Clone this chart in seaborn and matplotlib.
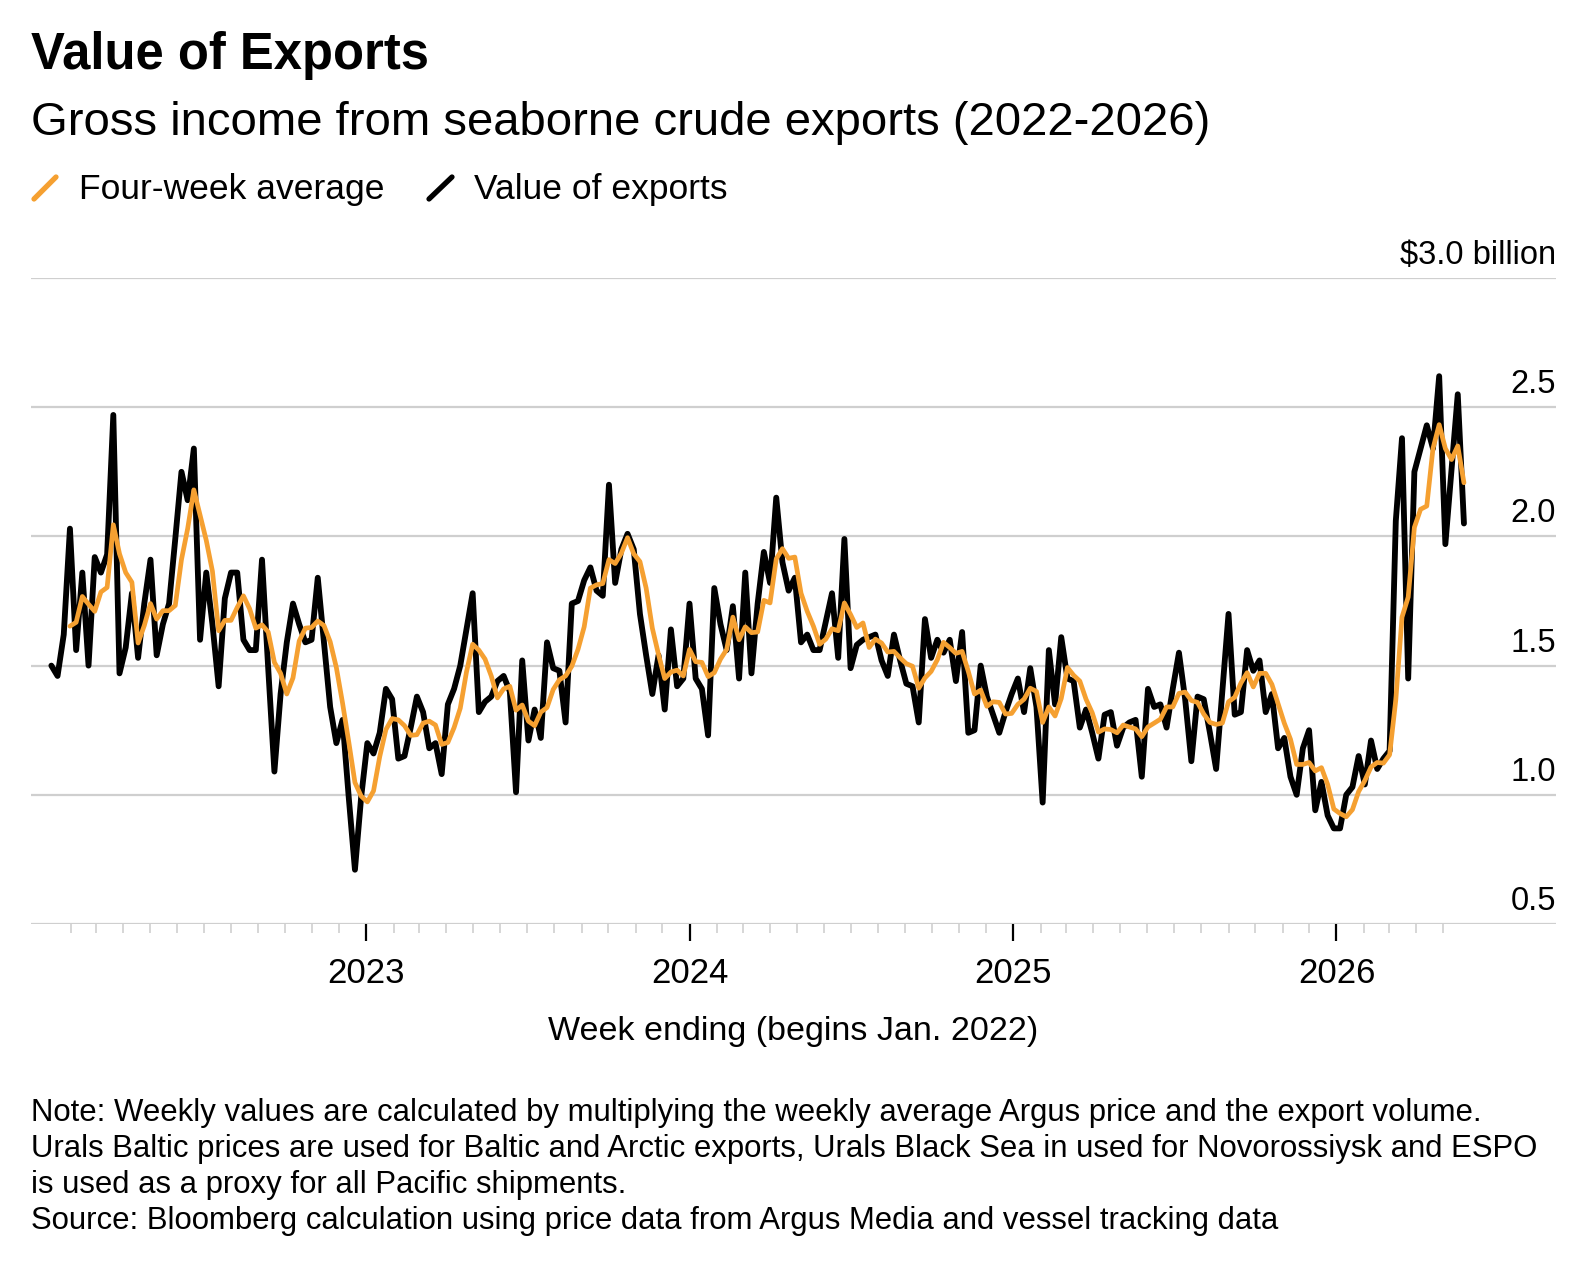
import numpy as np
import pandas as pd
import matplotlib
matplotlib.use("Agg")
import matplotlib.pyplot as plt
import matplotlib.dates as mdates
import matplotlib.transforms as mtransforms
from matplotlib.lines import Line2D
import seaborn as sns

start_date = "2022-01-10"
weekly_values = [
    1.50, 1.46, 1.62, 2.03, 1.56, 1.86, 1.50, 1.92, 1.86, 1.93,
    2.47, 1.47, 1.57, 1.78, 1.53, 1.74, 1.91, 1.54, 1.66, 1.74,
    1.99, 2.25, 2.14, 2.34, 1.60, 1.86, 1.66, 1.42, 1.76, 1.86,
    1.86, 1.60, 1.56, 1.56, 1.91, 1.49, 1.09, 1.39, 1.59, 1.74,
    1.66, 1.59, 1.60, 1.84, 1.59, 1.34, 1.20, 1.29, 0.99, 0.71,
    0.99, 1.20, 1.16, 1.24, 1.41, 1.37, 1.14, 1.15, 1.26, 1.38,
    1.32, 1.18, 1.20, 1.08, 1.35, 1.41, 1.50, 1.64, 1.78, 1.32,
    1.36, 1.38, 1.44, 1.46, 1.40, 1.01, 1.52, 1.21, 1.33, 1.22,
    1.59, 1.49, 1.48, 1.28, 1.74, 1.75, 1.83, 1.88, 1.79, 1.77,
    2.20, 1.82, 1.95, 2.01, 1.95, 1.70, 1.54, 1.39, 1.54, 1.33,
    1.64, 1.42, 1.45, 1.74, 1.45, 1.41, 1.23, 1.80, 1.66, 1.56,
    1.73, 1.45, 1.86, 1.47, 1.74, 1.94, 1.82, 2.15, 1.90, 1.79,
    1.84, 1.59, 1.62, 1.56, 1.56, 1.67, 1.78, 1.53, 1.99, 1.49,
    1.58, 1.60, 1.61, 1.62, 1.52, 1.46, 1.62, 1.52, 1.43, 1.42,
    1.28, 1.68, 1.53, 1.60, 1.55, 1.60, 1.44, 1.63, 1.24,
    1.25, 1.50, 1.38, 1.31, 1.24, 1.32, 1.39, 1.45, 1.32, 1.49,
    1.34, 0.97, 1.56, 1.35, 1.61, 1.45, 1.44, 1.26, 1.33, 1.24,
    1.14, 1.31, 1.32, 1.19, 1.26, 1.28, 1.29, 1.07, 1.41, 1.34,
    1.35, 1.26, 1.41, 1.55, 1.37, 1.13, 1.38, 1.37, 1.24, 1.10,
    1.40, 1.70, 1.31, 1.32, 1.56, 1.48, 1.52, 1.32, 1.39, 1.18,
    1.22, 1.07, 1.00, 1.18, 1.25, 0.94, 1.05, 0.92, 0.87, 0.87,
    1.00, 1.03, 1.15, 1.04, 1.21, 1.10, 1.14, 1.17, 2.06, 2.38,
    1.45, 2.25, 2.34, 2.43, 2.34, 2.62, 1.97, 2.26, 2.55, 2.05,
]
y_ticks = [0.5, 1.0, 1.5, 2.0, 2.5, 3.0]
y_tick_labels = ["0.5", "1.0", "1.5", "2.0", "2.5", "$3.0 billion"]
year_ticks = ["2023-01-01", "2024-01-01", "2025-01-01", "2026-01-01"]
year_labels = ["2023", "2024", "2025", "2026"]

dates = pd.date_range(start_date, periods=len(weekly_values), freq="7D")
df = pd.DataFrame({"date": dates, "value": weekly_values})
df["avg"] = df["value"].rolling(4).mean()

sns.set_theme(style="white")
plt.rcParams["font.family"] = ["Liberation Sans", "DejaVu Sans"]
plt.rcParams["text.color"] = "black"
plt.rcParams["xtick.color"] = "black"
plt.rcParams["xtick.labelcolor"] = "black"

W, H = 1594, 1273
fig = plt.figure(figsize=(W / 100, H / 100), dpi=100)
ax = fig.add_axes([31 / W, 1 - 924 / H, (1556 - 31) / W, (924 - 278) / H])

for yv in y_ticks:
    ax.axhline(yv, color="#cfcfcf", lw=1.6, zorder=1)

sns.lineplot(data=df, x="date", y="value", ax=ax, color="black", lw=4.2, zorder=3)
sns.lineplot(data=df.dropna(), x="date", y="avg", ax=ax, color="#f5a031", lw=3.4, zorder=4)

ax.set_ylim(0.5, 3.0)
ax.set_xlim(pd.Timestamp("2021-12-18"), pd.Timestamp("2026-09-06"))
for s in ax.spines.values():
    s.set_visible(False)
ax.set_yticks([])
ax.set_ylabel("")
ax.set_xlabel("")

ax.set_xticks(pd.to_datetime(year_ticks))
ax.set_xticklabels(year_labels, fontsize=25, color="black")
minor = [d for d in pd.date_range("2022-02-01", "2026-05-01", freq="MS") if d.month != 1]
ax.set_xticks(minor, minor=True)
ax.tick_params(axis="x", which="major", length=12, width=1.6, color="black", pad=12, bottom=True)
ax.tick_params(axis="x", which="minor", length=6.5, width=1.2, color="#cfcfcf", bottom=True)

off = mtransforms.ScaledTranslation(0, 0.14, fig.dpi_scale_trans)
tr = mtransforms.blended_transform_factory(ax.transAxes, ax.transData) + off
for yv, lab in zip(y_ticks, y_tick_labels):
    ax.text(1.0, yv, lab, transform=tr, ha="right", va="baseline", fontsize=23.5, color="black")

def fy(px):
    return 1 - px / H

fig.text(31 / W, fy(69), "Value of Exports", fontsize=36.5, fontweight="bold", va="baseline", ha="left")
fig.text(31 / W, fy(135), "Gross income from seaborne crude exports (2022-2026)", fontsize=34, va="baseline", ha="left")

fig.add_artist(Line2D([34 / W, 56 / W], [fy(199), fy(177)], color="#f5a031", lw=3.8, transform=fig.transFigure))
fig.text(79 / W, fy(199), "Four-week average", fontsize=25.5, va="baseline", ha="left")
fig.add_artist(Line2D([429 / W, 452 / W], [fy(199), fy(177)], color="black", lw=3.8, transform=fig.transFigure))
fig.text(474 / W, fy(199), "Value of exports", fontsize=25.5, va="baseline", ha="left")

fig.text((31 + 1556) / 2 / W, fy(1040), "Week ending (begins Jan. 2022)", fontsize=24.5, va="baseline", ha="center")

notes = [
    "Note: Weekly values are calculated by multiplying the weekly average Argus price and the export volume.",
    "Urals Baltic prices are used for Baltic and Arctic exports, Urals Black Sea in used for Novorossiysk and ESPO",
    "is used as a proxy for all Pacific shipments.",
    "Source: Bloomberg calculation using price data from Argus Media and vessel tracking data",
]
for k, line in enumerate(notes):
    fig.text(31 / W, fy(1121 + 36 * k), line, fontsize=22.4, va="baseline", ha="left")

fig.savefig("out.png", dpi=100, facecolor="white")
